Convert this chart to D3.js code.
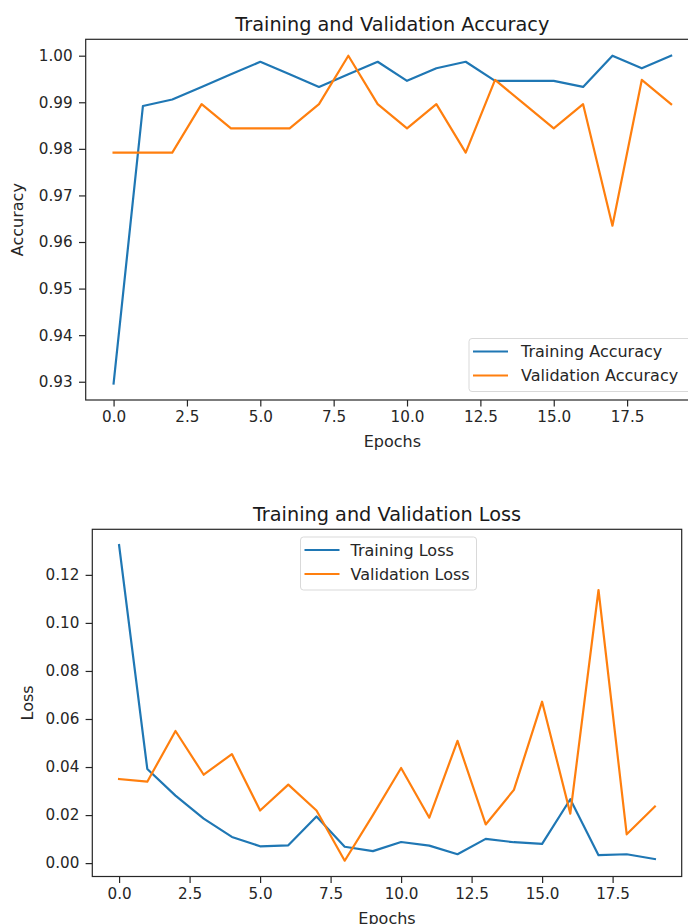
<!DOCTYPE html>
<html>
<head>
<meta charset="utf-8">
<script src="https://cdn.jsdelivr.net/npm/d3@7"></script>
<style>
  body { margin: 0; background: #fff; }
  svg { display: block; font-family: "DejaVu Sans", sans-serif; }
</style>
</head>
<body>
<script>
// values
const epochs = d3.range(20);

const trainAcc = [0.9296, 0.9892, 0.9906, 0.9933, 0.9960, 0.9987, 0.9960, 0.9933, 0.9960, 0.9987,
                  0.9946, 0.9973, 0.9987, 0.9946, 0.9946, 0.9946, 0.9933, 1.0000, 0.9973, 1.0000];
const valAcc   = [0.9792, 0.9792, 0.9792, 0.9896, 0.9844, 0.9844, 0.9844, 0.9896, 1.0000, 0.9896,
                  0.9844, 0.9896, 0.9792, 0.9948, 0.9896, 0.9844, 0.9896, 0.9635, 0.9948, 0.9896];

const trainLoss = [0.1324, 0.0392, 0.0281, 0.0185, 0.0109, 0.0070, 0.0074, 0.0194, 0.0068, 0.0050,
                   0.0088, 0.0073, 0.0037, 0.0101, 0.0087, 0.0080, 0.0266, 0.0033, 0.0037, 0.0017];
const valLoss   = [0.0350, 0.0339, 0.0550, 0.0368, 0.0454, 0.0219, 0.0327, 0.0219, 0.0010, 0.0200,
                   0.0396, 0.0189, 0.0509, 0.0161, 0.0305, 0.0672, 0.0206, 0.1137, 0.0120, 0.0236];

const xTicks = [0, 2.5, 5, 7.5, 10, 12.5, 15, 17.5];
const accTicks = [0.93, 0.94, 0.95, 0.96, 0.97, 0.98, 0.99, 1.00];
const lossTicks = [0, 0.02, 0.04, 0.06, 0.08, 0.10, 0.12];

const blue = "#1f77b4", orange = "#ff7f0e";
const tickFs = 15.2, labelFs = 16, titleFs = 19.3;
const ink = "#262626";

const svg = d3.select("body").append("svg")
    .attr("width", 688)
    .attr("height", 924);

// matplotlib-style 5% margins
function padded(values) {
  const [lo, hi] = d3.extent(values);
  const p = (hi - lo) * 0.05;
  return [lo - p, hi + p];
}

function panel(o) {
  const x = d3.scaleLinear(padded(epochs), [o.left, o.right]);
  const y = d3.scaleLinear(padded(o.series[0].values.concat(o.series[1].values)), [o.bottom, o.top]);
  const g = svg.append("g");

  const clipId = "clip" + o.id;
  g.append("clipPath").attr("id", clipId)
    .append("rect")
      .attr("x", o.left).attr("y", o.top)
      .attr("width", o.right - o.left).attr("height", o.bottom - o.top);

  const line = d3.line()
      .x((d, i) => x(epochs[i]))
      .y(d => y(d));

  g.append("g")
      .attr("clip-path", `url(#${clipId})`)
    .selectAll("path")
    .data(o.series)
    .join("path")
      .attr("fill", "none")
      .attr("stroke", d => d.color)
      .attr("stroke-width", 2.2)
      .attr("stroke-linejoin", "round")
      .attr("stroke-linecap", "square")
      .attr("d", d => line(d.values));

  const styleAxis = a => {
    a.select(".domain").remove();
    a.selectAll("text").attr("font-size", tickFs).attr("font-family", "DejaVu Sans").attr("fill", ink);
    a.selectAll("line").attr("stroke", ink).attr("stroke-width", 1.2);
  };

  g.append("g")
      .attr("transform", `translate(0,${o.bottom})`)
      .call(d3.axisBottom(x).tickValues(xTicks).tickFormat(d3.format(".1f")).tickSize(6.5).tickPadding(5))
      .call(styleAxis);

  g.append("g")
      .attr("transform", `translate(${o.left},0)`)
      .call(d3.axisLeft(y).tickValues(o.yTicks).tickFormat(d3.format(".2f")).tickSize(6.7).tickPadding(6.3))
      .call(styleAxis);

  g.append("rect")
      .attr("x", o.left).attr("y", o.top)
      .attr("width", o.right - o.left).attr("height", o.bottom - o.top)
      .attr("fill", "none")
      .attr("stroke", ink)
      .attr("stroke-width", 1.2);

  g.append("text")
      .attr("x", (o.left + o.right) / 2)
      .attr("y", o.top - 8)
      .attr("text-anchor", "middle")
      .attr("font-size", titleFs)
      .attr("fill", "#1a1a1a")
      .text(o.title);

  g.append("text")
      .attr("x", (o.left + o.right) / 2)
      .attr("y", o.bottom + 47)
      .attr("text-anchor", "middle")
      .attr("font-size", labelFs)
      .attr("fill", ink)
      .text("Epochs");

  g.append("text")
      .attr("transform", `translate(${o.ylabelX},${(o.top + o.bottom) / 2}) rotate(-90)`)
      .attr("text-anchor", "middle")
      .attr("font-size", labelFs)
      .attr("fill", ink)
      .text(o.ylabel);

  // legend
  const L = o.legend;
  const lg = g.append("g").attr("transform", `translate(${L.x},${L.y})`);
  lg.append("rect")
      .attr("width", L.w).attr("height", 53)
      .attr("rx", 3)
      .attr("fill", "#fff").attr("fill-opacity", 0.8)
      .attr("stroke", "#d9d9d9");
  const item = lg.selectAll("g.item")
    .data(o.series)
    .join("g")
      .attr("class", "item")
      .attr("transform", (d, i) => `translate(0,${13 + i * 24})`);
  item.append("line")
      .attr("x1", 4).attr("x2", 39)
      .attr("stroke", d => d.color)
      .attr("stroke-width", 2.2);
  item.append("text")
      .attr("x", L.tx)
      .attr("dy", "0.35em")
      .attr("font-size", labelFs)
      .attr("fill", ink)
      .text(d => d.name);
}

panel({
  id: "acc",
  left: 85.7, right: 699, top: 39.3, bottom: 400,
  title: "Training and Validation Accuracy",
  ylabel: "Accuracy", ylabelX: 23,
  yTicks: accTicks,
  series: [
    {name: "Training Accuracy", values: trainAcc, color: blue},
    {name: "Validation Accuracy", values: valAcc, color: orange}
  ],
  legend: {x: 469, y: 338.5, w: 222, tx: 52}
});

panel({
  id: "loss",
  left: 92.3, right: 681.7, top: 529.3, bottom: 876.5,
  title: "Training and Validation Loss",
  ylabel: "Loss", ylabelX: 33,
  yTicks: lossTicks,
  series: [
    {name: "Training Loss", values: trainLoss, color: blue},
    {name: "Validation Loss", values: valLoss, color: orange}
  ],
  legend: {x: 300.5, y: 537, w: 176, tx: 50}
});
</script>
</body>
</html>
